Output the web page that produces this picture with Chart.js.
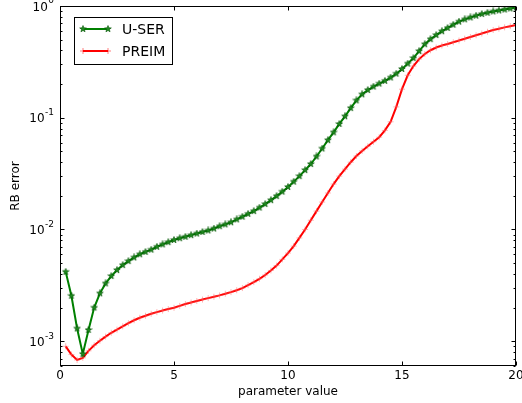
<!DOCTYPE html>
<html>
<head>
<meta charset="utf-8">
<script src="https://cdn.jsdelivr.net/npm/chart.js@4/dist/chart.umd.min.js"></script>
<style>
html, body { margin: 0; padding: 0; background: #fff; }
#wrap { width: 522px; height: 403px; }
</style>
</head>
<body>
<div id="wrap"><canvas id="errChart" width="522" height="403"></canvas></div>
<script>
var seriesNames = ['U-SER', 'PREIM'];

var params = [
    0.25, 0.5, 0.75, 1, 1.25, 1.5, 1.75, 2,
    2.25, 2.5, 2.75, 3, 3.25, 3.5, 3.75, 4,
    4.25, 4.5, 4.75, 5, 5.25, 5.5, 5.75, 6,
    6.25, 6.5, 6.75, 7, 7.25, 7.5, 7.75, 8,
    8.25, 8.5, 8.75, 9, 9.25, 9.5, 9.75, 10,
    10.25, 10.5, 10.75, 11, 11.25, 11.5, 11.75, 12,
    12.25, 12.5, 12.75, 13, 13.25, 13.5, 13.75, 14,
    14.25, 14.5, 14.75, 15, 15.25, 15.5, 15.75, 16,
    16.25, 16.5, 16.75, 17, 17.25, 17.5, 17.75, 18,
    18.25, 18.5, 18.75, 19, 19.25, 19.5, 19.75, 20
];

var userErr = [
    4.18e-3, 2.55e-3, 1.30e-3, 7.7e-4, 1.26e-3, 2.0e-3, 2.68e-3, 3.29e-3,
    3.83e-3, 4.33e-3, 4.8e-3, 5.21e-3, 5.62e-3, 6.0e-3, 6.3e-3, 6.6e-3,
    7.0e-3, 7.35e-3, 7.7e-3, 8.05e-3, 8.35e-3, 8.6e-3, 8.9e-3, 9.2e-3,
    9.5e-3, 9.8e-3, 1.02e-2, 1.07e-2, 1.11e-2, 1.16e-2, 1.23e-2, 1.30e-2,
    1.38e-2, 1.46e-2, 1.57e-2, 1.69e-2, 1.83e-2, 1.99e-2, 2.18e-2, 2.40e-2,
    2.68e-2, 3.0e-2, 3.4e-2, 3.85e-2, 4.5e-2, 5.3e-2, 6.3e-2, 7.4e-2,
    8.8e-2, 0.103, 0.122, 0.143, 0.162, 0.177, 0.19, 0.202,
    0.214, 0.229, 0.248, 0.273, 0.305, 0.342, 0.395, 0.455,
    0.505, 0.55, 0.595, 0.636, 0.68, 0.725, 0.76, 0.79,
    0.82, 0.848, 0.87, 0.893, 0.912, 0.93, 0.95, 0.97
];

var preimErr = [
    9.0e-4, 7.6e-4, 6.8e-4, 7.1e-4, 8.2e-4, 9.2e-4, 1.01e-3, 1.1e-3,
    1.19e-3, 1.27e-3, 1.36e-3, 1.45e-3, 1.54e-3, 1.62e-3, 1.69e-3, 1.76e-3,
    1.82e-3, 1.88e-3, 1.94e-3, 1.99e-3, 2.07e-3, 2.15e-3, 2.22e-3, 2.29e-3,
    2.36e-3, 2.43e-3, 2.5e-3, 2.57e-3, 2.66e-3, 2.75e-3, 2.86e-3, 2.99e-3,
    3.18e-3, 3.38e-3, 3.62e-3, 3.91e-3, 4.3e-3, 4.75e-3, 5.4e-3, 6.15e-3,
    7.1e-3, 8.4e-3, 1.0e-2, 1.21e-2, 1.46e-2, 1.76e-2, 2.12e-2, 2.55e-2,
    3.0e-2, 3.47e-2, 4.0e-2, 4.54e-2, 5.05e-2, 5.55e-2, 6.1e-2, 6.7e-2,
    7.7e-2, 9.2e-2, 0.125, 0.18, 0.24, 0.29, 0.335, 0.372,
    0.402, 0.425, 0.443, 0.457, 0.474, 0.491, 0.51, 0.528,
    0.547, 0.567, 0.588, 0.61, 0.627, 0.644, 0.66, 0.676
];

var xTicks = [0, 5, 10, 15, 20];
var yTickExps = [-3, -2, -1, 0];

var FONT = '"DejaVu Sans", sans-serif';

// filled 5-point star like matplotlib's '*' marker
function makeStar(size, fill, edge) {
    var c = document.createElement('canvas');
    c.width = size; c.height = size;
    var g = c.getContext('2d');
    var cx = size / 2, cy = size / 2, r = size / 2 - 0.5, ri = r * 0.42;
    g.beginPath();
    for (var i = 0; i < 10; i++) {
        var rr = (i % 2) ? ri : r;
        var ang = -Math.PI / 2 + i * Math.PI / 5;
        g.lineTo(cx + rr * Math.cos(ang), cy + rr * Math.sin(ang));
    }
    g.closePath();
    g.fillStyle = fill;
    g.fill();
    g.strokeStyle = edge;
    g.lineWidth = 0.6;
    g.stroke();
    return c;
}

var starImg = makeStar(8, '#1f8a1f', '#005000');

function toPoints(xs, ys) {
    var out = [];
    for (var i = 0; i < xs.length; i++) out.push({ x: xs[i], y: ys[i] });
    return out;
}

function drawPlus(ctx, x, y, r, color) {
    ctx.save();
    ctx.strokeStyle = color;
    ctx.lineWidth = 1;
    ctx.beginPath();
    ctx.moveTo(x - r, y); ctx.lineTo(x + r, y);
    ctx.moveTo(x, y - r); ctx.lineTo(x, y + r);
    ctx.stroke();
    ctx.restore();
}

var mplAxes = {
    id: 'mplAxes',
    afterDraw: function(chart) {
        var ctx = chart.ctx, a = chart.chartArea;
        var xs = chart.scales.x, ys = chart.scales.y;
        var L = Math.round(a.left) + 0.5, R = Math.round(a.right) - 0.5;
        var T = Math.round(a.top) + 0.5, B = Math.round(a.bottom) - 0.5;
        ctx.save();
        ctx.strokeStyle = '#000';
        ctx.lineWidth = 1;
        ctx.strokeRect(L, T, R - L, B - T);

        // x ticks, inward on bottom and top
        ctx.beginPath();
        xTicks.forEach(function(v) {
            var px = Math.round(xs.getPixelForValue(v)) + 0.5;
            ctx.moveTo(px, B); ctx.lineTo(px, B - 4);
            ctx.moveTo(px, T); ctx.lineTo(px, T + 4);
        });
        // y ticks, major and minor, inward on left and right
        for (var e = -4; e <= 0; e++) {
            for (var m = 1; m <= 9; m++) {
                var v = m * Math.pow(10, e);
                if (v < ys.min * 0.999 || v > ys.max * 1.001) continue;
                var py = Math.round(ys.getPixelForValue(v)) + 0.5;
                var len = (m === 1) ? 4 : 2;
                ctx.moveTo(L, py); ctx.lineTo(L + len, py);
                ctx.moveTo(R, py); ctx.lineTo(R - len, py);
            }
        }
        ctx.stroke();

        // tick labels
        ctx.fillStyle = '#000';
        ctx.font = '12px ' + FONT;
        ctx.textAlign = 'center';
        ctx.textBaseline = 'middle';
        xTicks.forEach(function(v) {
            ctx.fillText(String(v), xs.getPixelForValue(v), a.bottom + 10);
        });

        yTickExps.forEach(function(ex) {
            var py = ys.getPixelForValue(Math.pow(10, ex));
            var sup = String(ex);
            ctx.font = '9px ' + FONT;
            var supW = ctx.measureText(sup).width;
            var right = a.left - 6;
            ctx.textAlign = 'right';
            ctx.fillText(sup, right, py - 5);
            ctx.font = '12px ' + FONT;
            ctx.fillText('10', right - supW - 0.5, py + 1.5);
        });

        // axis titles
        ctx.font = '12px ' + FONT;
        ctx.textAlign = 'center';
        ctx.fillText('parameter value', (a.left + a.right) / 2, a.bottom + 26);
        ctx.save();
        ctx.translate(16, (a.top + a.bottom) / 2);
        ctx.rotate(-Math.PI / 2);
        ctx.fillText('RB error', 0, 0);
        ctx.restore();

        // legend box in the upper left
        var bx = 74.5, by = 17.5, bw = 98, bh = 47;
        ctx.fillStyle = '#fff';
        ctx.fillRect(bx, by, bw, bh);
        ctx.strokeStyle = '#000';
        ctx.strokeRect(bx, by, bw, bh);

        var ds = chart.data.datasets;
        var rows = [29, 51];
        ds.forEach(function(d, i) {
            var y = rows[i];
            ctx.strokeStyle = d.borderColor;
            ctx.lineWidth = 2;
            ctx.beginPath();
            ctx.moveTo(83, y); ctx.lineTo(108, y);
            ctx.stroke();
            if (i === 0) {
                ctx.drawImage(starImg, 83 - 4, y - 4);
                ctx.drawImage(starImg, 108 - 4, y - 4);
            } else {
                drawPlus(ctx, 83, y, 3, 'rgba(255,0,0,0.5)');
                drawPlus(ctx, 108, y, 3, 'rgba(255,0,0,0.5)');
            }
            ctx.fillStyle = '#000';
            ctx.font = '14px ' + FONT;
            ctx.textAlign = 'left';
            ctx.fillText(d.label, 122, y + 1);
        });
        ctx.restore();
    }
};

var ctx = document.getElementById('errChart').getContext('2d');
var errChart = new Chart(ctx, {
    type: 'line',
    data: {
        datasets: [{
            label: seriesNames[0],
            data: toPoints(params, userErr),
            borderColor: '#008000',
            borderWidth: 2,
            pointStyle: starImg,
            pointRadius: 4,
            pointHoverRadius: 4,
            tension: 0
        }, {
            label: seriesNames[1],
            data: toPoints(params, preimErr),
            borderColor: '#ff0000',
            borderWidth: 2,
            pointStyle: 'cross',
            pointRadius: 3,
            pointBorderWidth: 1,
            pointBorderColor: 'rgba(255,90,90,0.45)',
            pointHoverRadius: 3,
            tension: 0
        }]
    },
    options: {
        responsive: false,
        animation: false,
        devicePixelRatio: 1,
        layout: { padding: { left: 0, top: 6, right: 3, bottom: 0 } },
        plugins: {
            legend: { display: false },
            tooltip: { enabled: false }
        },
        scales: {
            x: {
                type: 'linear',
                min: 0,
                max: 20,
                grid: { display: false },
                border: { display: false },
                ticks: { display: false },
                afterFit: function(s) { s.height = 37; }
            },
            y: {
                type: 'logarithmic',
                min: 6e-4,
                max: 1,
                grid: { display: false },
                border: { display: false },
                ticks: { display: false },
                afterFit: function(s) { s.width = 60; }
            }
        }
    },
    plugins: [mplAxes]
});
</script>
</body>
</html>
